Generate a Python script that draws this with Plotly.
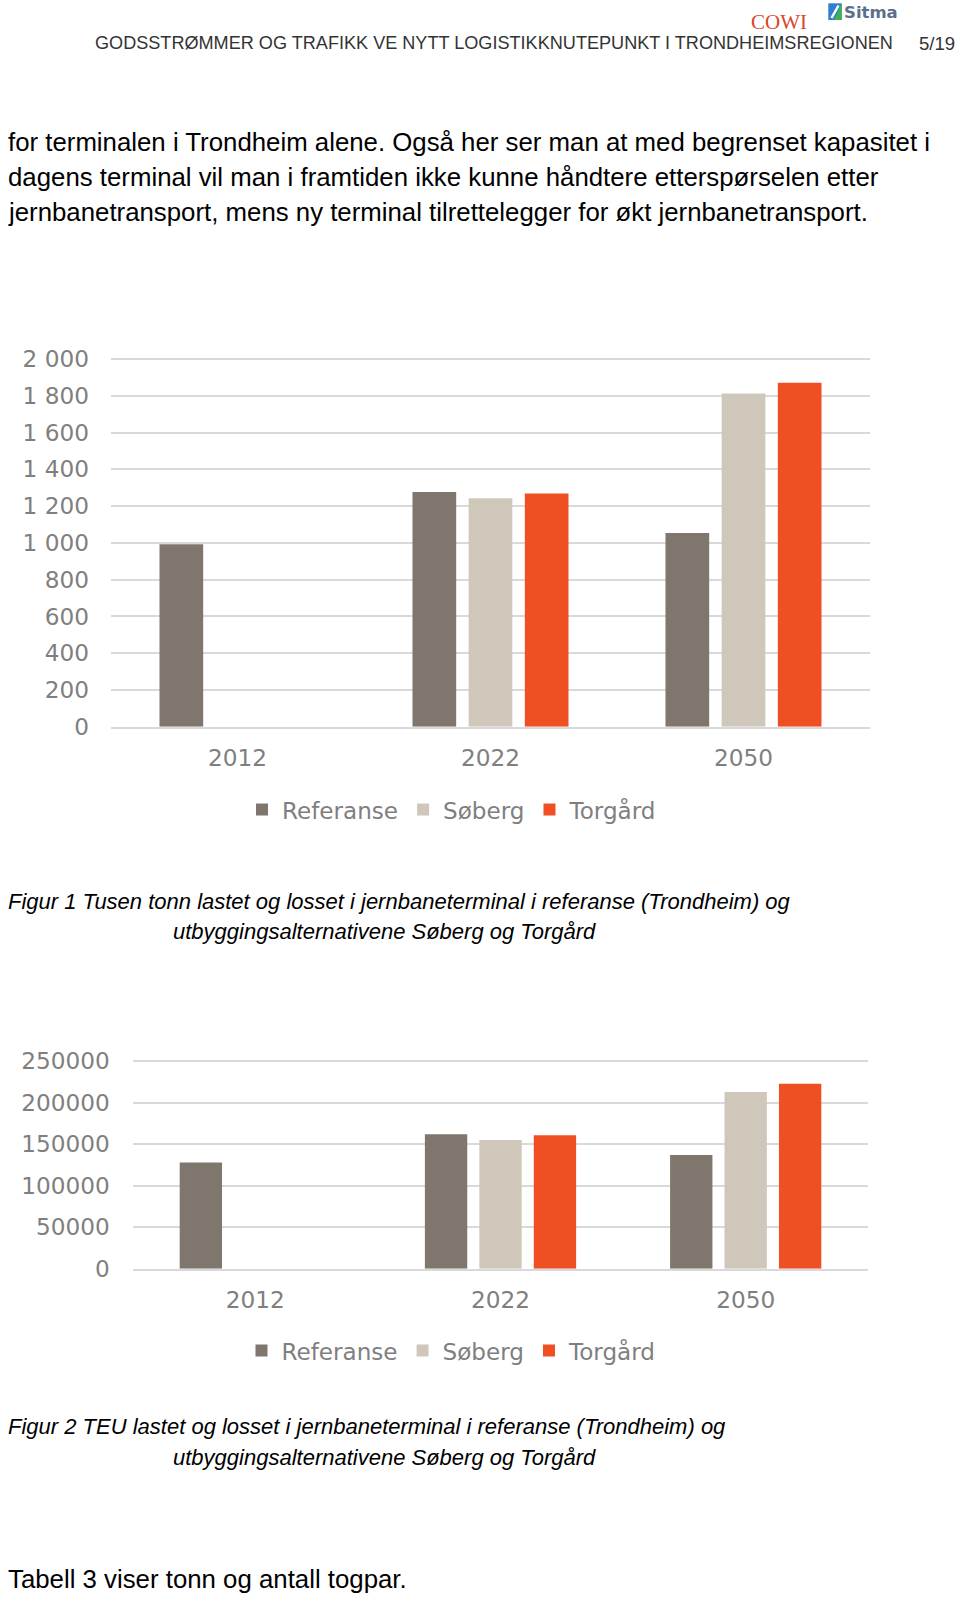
import plotly.graph_objects as go

W, H = 960, 1597

# ---- data ----
years = ["2012", "2022", "2050"]
series_names = ["Referanse", "Søberg", "Torgård"]
colors = ["#7f776d", "#d0c7bb", "#ef5023"]

tonn_referanse = [992, 1276, 1053]
tonn_soberg = [None, 1242, 1813]
tonn_torgard = [None, 1269, 1871]

teu_referanse = [128000, 162000, 137000]
teu_soberg = [None, 155000, 213000]
teu_torgard = [None, 161000, 223000]

tonn_tickvals = [0, 200, 400, 600, 800, 1000, 1200, 1400, 1600, 1800, 2000]
tonn_ticktext = ["0", "200", "400", "600", "800", "1 000", "1 200", "1 400", "1 600", "1 800", "2 000"]
teu_tickvals = [0, 50000, 100000, 150000, 200000, 250000]
teu_ticktext = ["0", "50000", "100000", "150000", "200000", "250000"]

header = "GODSSTRØMMER OG TRAFIKK VE NYTT LOGISTIKKNUTEPUNKT I TRONDHEIMSREGIONEN"
page_no = "5/19"
body_lines = [
    "for terminalen i Trondheim alene. Også her ser man at med begrenset kapasitet i",
    "dagens terminal vil man i framtiden ikke kunne håndtere etterspørselen etter",
    "jernbanetransport, mens ny terminal tilrettelegger for økt jernbanetransport.",
]
caption1 = ["Figur 1 Tusen tonn lastet og losset i jernbaneterminal i referanse (Trondheim) og",
            "utbyggingsalternativene Søberg og Torgård"]
caption2 = ["Figur 2 TEU lastet og losset i jernbaneterminal i referanse (Trondheim) og",
            "utbyggingsalternativene Søberg og Torgård"]
last_line = "Tabell 3 viser tonn og antall togpar."


def py(px):
    return 1 - px / H


def px_x(px):
    return px / W


fig = go.Figure()

tick_font = dict(family="DejaVu Sans, Verdana", size=23.2, color="#7f7f7f")
leg_font = dict(family="DejaVu Sans, Verdana", size=23.1, color="#7f7f7f")

for name, vals, col in zip(series_names, [tonn_referanse, tonn_soberg, tonn_torgard], colors):
    fig.add_trace(go.Bar(x=years, y=vals, name=name, marker=dict(color=col, line_width=0),
                         xaxis="x", yaxis="y", legend="legend", hoverinfo="x+y"))
for name, vals, col in zip(series_names, [teu_referanse, teu_soberg, teu_torgard], colors):
    fig.add_trace(go.Bar(x=years, y=vals, name=name, marker=dict(color=col, line_width=0),
                         xaxis="x2", yaxis="y2", legend="legend2", hoverinfo="x+y"))

grid = "#d9d9d9"
# chart 1: 0 at 726.7 px, 2000 at 359 px; range slightly above 2000 so top grid line shows
c1_bot_px, c1_2000_px = 726.7, 359.0
c1_top_val = 2010
c1_top_px = c1_bot_px - (c1_bot_px - c1_2000_px) * c1_top_val / 2000
c2_bot_px, c2_250k_px = 1268.7, 1061.3
c2_top_val = 252000
c2_top_px = c2_bot_px - (c2_bot_px - c2_250k_px) * c2_top_val / 250000

fig.update_layout(
    width=W, height=H,
    margin=dict(l=0, r=0, t=0, b=0, autoexpand=False),
    paper_bgcolor="white", plot_bgcolor="white",
    barmode="group", bargap=0.334, bargroupgap=0.222,
    font=tick_font,
    showlegend=True,
    xaxis=dict(domain=[px_x(111), px_x(870)], anchor="y", showgrid=False, automargin=False,
               showline=True, linecolor=grid, linewidth=1.5, ticks="",
               tickfont=tick_font, ticklabelstandoff=10, fixedrange=True),
    yaxis=dict(domain=[py(c1_bot_px), py(c1_top_px)], anchor="x", range=[0, c1_top_val],
               tickvals=tonn_tickvals, ticktext=tonn_ticktext, automargin=False,
               showgrid=True, gridcolor=grid, gridwidth=1.5, zeroline=False,
               showline=False, ticks="", tickfont=tick_font, ticklabelstandoff=21,
               fixedrange=True),
    xaxis2=dict(domain=[px_x(132.7), px_x(868.3)], anchor="y2", showgrid=False, automargin=False,
                showline=True, linecolor=grid, linewidth=1.5, ticks="",
                tickfont=tick_font, ticklabelstandoff=10, fixedrange=True),
    yaxis2=dict(domain=[py(c2_bot_px), py(c2_top_px)], anchor="x2", range=[0, c2_top_val],
                tickvals=teu_tickvals, ticktext=teu_ticktext, automargin=False,
                showgrid=True, gridcolor=grid, gridwidth=1.5, zeroline=False,
                showline=False, ticks="", tickfont=tick_font, ticklabelstandoff=22,
                fixedrange=True),
    legend=dict(orientation="h", x=px_x(452), xanchor="center", y=py(810), yanchor="middle",
                font=leg_font, bgcolor="rgba(0,0,0,0)", itemclick=False, itemdoubleclick=False),
    legend2=dict(orientation="h", x=px_x(451.5), xanchor="center", y=py(1351), yanchor="middle",
                 font=leg_font, bgcolor="rgba(0,0,0,0)", itemclick=False, itemdoubleclick=False),
)

text_font = "Liberation Sans, Arial"
ann = []
ann.append(dict(text=header, x=px_x(93.3), y=py(43.3), xanchor="left", yanchor="middle",
                font=dict(family=text_font, size=18.1, color="#333333")))
ann.append(dict(text=page_no, x=px_x(957), y=py(43.3), xanchor="right", yanchor="middle",
                font=dict(family=text_font, size=18.6, color="#333333")))
ann.append(dict(text="COWI", x=px_x(779), y=py(21.5), xanchor="center", yanchor="middle",
                font=dict(family="Liberation Serif, Times New Roman", size=21, color="#d9472b")))
ann.append(dict(text="<b>Sitma</b>", x=px_x(842), y=py(12.5), xanchor="left", yanchor="middle",
                font=dict(family="DejaVu Sans", size=16.5, color="#5b6f8e")))
for i, line in enumerate(body_lines):
    ann.append(dict(text=line, x=px_x(6), y=py(142 + i * 35.2), xanchor="left", yanchor="middle",
                    font=dict(family=text_font, size=25.8, color="#000000")))
for cap, y0 in [(caption1, 901), (caption2, 1426.7)]:
    ann.append(dict(text="<i>" + cap[0] + "</i>", x=px_x(6), y=py(y0), xanchor="left", yanchor="middle",
                    font=dict(family=text_font, size=22, color="#000000")))
    ann.append(dict(text="<i>" + cap[1] + "</i>", x=px_x(171), y=py(y0 + 30.7), xanchor="left", yanchor="middle",
                    font=dict(family=text_font, size=22, color="#000000")))
ann.append(dict(text=last_line, x=px_x(6), y=py(1579.4), xanchor="left", yanchor="middle",
                font=dict(family=text_font, size=25.8, color="#000000")))
for a in ann:
    a.update(xref="paper", yref="paper", showarrow=False)
fig.update_layout(annotations=ann)

# Sitma logo mark (square)
fig.add_shape(type="rect", xref="paper", yref="paper",
              x0=px_x(828.3), x1=px_x(841.7), y0=py(20), y1=py(3.3),
              fillcolor="#2f7fd0", line_width=0)
fig.add_shape(type="path", xref="paper", yref="paper",
              path=f"M {px_x(841.7)},{py(3.3)} L {px_x(841.7)},{py(20)} L {px_x(834)},{py(20)} Z",
              fillcolor="#3fb34f", line_width=0)
fig.add_shape(type="line", xref="paper", yref="paper",
              x0=px_x(831.5), y0=py(18), x1=px_x(838.5), y1=py(5.5),
              line=dict(color="white", width=2.5))

page_fix = (
    "document.documentElement.style.margin='0';"
    "document.body.style.margin='0';document.body.style.padding='0';"
    "document.body.style.overflow='hidden';document.documentElement.style.overflow='hidden';"
    "var gd=document.getElementById('{plot_id}');"
    "gd.style.position='absolute';gd.style.left='0px';gd.style.top='0px';"
)
fig.write_html("out.html", post_script=page_fix, config={"displayModeBar": False})
